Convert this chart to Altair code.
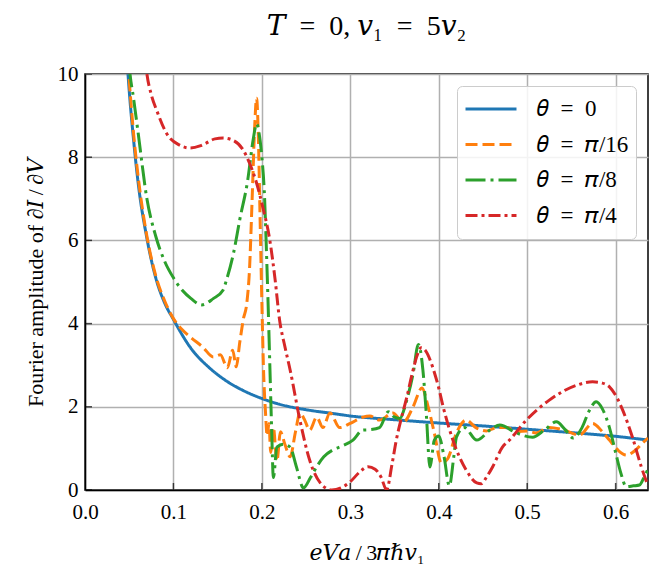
import altair as alt
import pandas as pd

# ---- data ----
labels = ["𝜃\u2002=\u20020", "𝜃\u2002=\u2002𝜋/16", "𝜃\u2002=\u2002𝜋/8", "𝜃\u2002=\u2002𝜋/4"]
colors = ["#1f77b4", "#ff7f0e", "#2ca02c", "#d62728"]

x_t0 = [0.035, 0.04, 0.045, 0.05, 0.055, 0.06, 0.07, 0.08, 0.09, 0.10, 0.12, 0.14, 0.16, 0.18,
        0.20, 0.22, 0.25, 0.28, 0.30, 0.35, 0.40, 0.45, 0.50, 0.55, 0.60, 0.6366]
y_t0 = [16.0, 13.2, 11.2, 9.6, 8.4, 7.4, 6.05, 5.1, 4.5, 4.1, 3.4, 2.95, 2.62, 2.38,
        2.2, 2.06, 1.93, 1.84, 1.78, 1.69, 1.61, 1.54, 1.46, 1.38, 1.29, 1.2]

x_t16 = [0.035, 0.04, 0.045, 0.05, 0.055, 0.06, 0.07, 0.08, 0.09, 0.10, 0.11, 0.12, 0.133, 0.145,
         0.153, 0.161, 0.167, 0.171, 0.175, 0.179, 0.183, 0.186, 0.189, 0.192, 0.194, 0.196, 0.198,
         0.200, 0.202, 0.204, 0.206, 0.208, 0.210, 0.213, 0.217, 0.221, 0.226, 0.232, 0.238, 0.243,
         0.248, 0.254, 0.262, 0.269, 0.277, 0.288, 0.30, 0.314, 0.322, 0.333, 0.348, 0.36, 0.371,
         0.381, 0.388, 0.395, 0.403, 0.41, 0.42, 0.431, 0.442, 0.454, 0.466, 0.477, 0.488, 0.50,
         0.51, 0.525, 0.54, 0.559, 0.574, 0.585, 0.593, 0.603, 0.612, 0.622, 0.63, 0.6366]
y_t16 = [16.0, 13.3, 11.4, 9.85, 8.55, 7.55, 6.1, 5.15, 4.55, 4.12, 3.85, 3.66, 3.44, 3.2,
         3.25, 2.94, 3.36, 2.96, 3.55, 4.1, 4.5, 5.3, 7.0, 8.8, 9.42, 8.5, 6.5,
         4.5, 2.8, 1.9, 1.3, 1.6, 0.9, 1.5, 0.7, 1.4, 1.1, 0.8, 1.4, 1.85,
         1.7, 1.44, 1.75, 1.5, 1.85, 1.5, 1.6, 1.75, 1.78, 1.68, 1.85, 1.63, 2.0,
         2.45, 2.0, 1.37, 0.65, 0.75, 1.37, 1.68, 1.5, 1.42, 1.5, 1.5, 1.4, 1.42,
         1.37, 1.5, 1.45, 1.32, 1.6, 1.4, 1.2, 0.95, 0.84, 0.95, 1.12, 1.25]

x_t8 = [0.035, 0.04, 0.045, 0.05, 0.055, 0.06, 0.07, 0.08, 0.09, 0.10, 0.11, 0.12, 0.132, 0.145,
        0.156, 0.16, 0.168, 0.175, 0.184, 0.19, 0.194, 0.198, 0.2, 0.203, 0.205, 0.207, 0.209,
        0.211, 0.213, 0.217, 0.224, 0.232, 0.239, 0.247, 0.255, 0.262, 0.27, 0.28, 0.29, 0.303,
        0.314, 0.322, 0.333, 0.343, 0.35, 0.356, 0.363, 0.371, 0.377, 0.382, 0.386, 0.39, 0.395,
        0.40, 0.406, 0.412, 0.417, 0.42, 0.429, 0.443, 0.458, 0.469, 0.488, 0.506, 0.52, 0.533,
        0.543, 0.552, 0.562, 0.57, 0.578, 0.585, 0.593, 0.60, 0.606, 0.612, 0.62, 0.627, 0.632, 0.6366]
y_t8 = [16.5, 14.0, 12.0, 10.2, 9.4, 8.6, 7.0, 6.1, 5.5, 5.1, 4.8, 4.6, 4.45, 4.6,
        4.8, 5.05, 5.7, 6.5, 7.45, 8.4, 8.8, 8.4, 8.0, 7.05, 5.85, 4.5, 3.0,
        1.5, 0.3, 1.03, 1.1, 1.03, 0.56, 0.05, 0.3, 0.56, 0.8, 0.96, 1.05, 1.2,
        1.44, 1.45, 1.5, 1.88, 1.75, 1.72, 2.1, 2.8, 3.5, 2.9, 1.8, 0.55, 1.2,
        1.3, 0.8, 0.1, 0.8, 1.27, 1.5, 1.2, 1.44, 1.56, 1.37, 1.27, 1.45, 1.64,
        1.45, 1.25, 1.5, 1.9, 2.12, 1.95, 1.5, 0.9, 0.4, 0.08, 0.1, 0.12, 0.3, 0.5]

x_t4 = [0.06, 0.065, 0.07, 0.075, 0.081, 0.092, 0.107, 0.119, 0.13, 0.137, 0.147, 0.156, 0.167,
        0.179, 0.186, 0.194, 0.201, 0.209, 0.215, 0.22, 0.226, 0.232, 0.243, 0.254, 0.266, 0.279,
        0.292, 0.30, 0.31, 0.32, 0.328, 0.335, 0.341, 0.347, 0.352, 0.358, 0.364, 0.37, 0.375,
        0.38, 0.385, 0.393, 0.40, 0.405, 0.416, 0.431, 0.443, 0.448, 0.454, 0.461, 0.472, 0.48,
        0.499, 0.525, 0.556, 0.574, 0.585, 0.593, 0.602, 0.608, 0.619, 0.629, 0.6366]
y_t4 = [12.2, 11.0, 10.0, 9.5, 9.13, 8.58, 8.29, 8.22, 8.27, 8.34, 8.44, 8.46, 8.41,
        8.17, 7.86, 7.38, 6.8, 6.0, 5.05, 4.09, 3.45, 2.88, 1.68, 0.72, 0.17, 0.0,
        0.08, 0.2, 0.42, 0.56, 0.5, 0.3, 0.0, 0.6, 1.2, 1.75, 2.24, 2.8, 3.2,
        3.42, 3.35, 2.96, 2.45, 2.0, 1.2, 0.48, 0.17, 0.15, 0.31, 0.56, 1.03, 1.2,
        1.68, 2.16, 2.52, 2.6, 2.57, 2.48, 2.2, 1.92, 1.27, 0.56, 0.1]

x_ticks = [0.0, 0.1, 0.2, 0.3, 0.4, 0.5, 0.6]
y_ticks = [0, 2, 4, 6, 8, 10]

series = [(labels[0], x_t0, y_t0), (labels[1], x_t16, y_t16),
          (labels[2], x_t8, y_t8), (labels[3], x_t4, y_t4)]
rows = []
for k, (name, xs, ys) in enumerate(series):
    for xv, yv in zip(xs, ys):
        rows.append({"series": name, "k": k, "x": xv, "y": yv})
df = pd.DataFrame(rows)

dashes = [[1, 0], [12, 5], [20, 5, 3, 5], [12, 4, 3, 4]]
FONT = "Liberation Serif, DejaVu Serif, serif"

xscale = alt.Scale(domain=[0, 0.6366], nice=False, zero=False)
yscale = alt.Scale(domain=[0, 10], nice=False)

legend = alt.Legend(
    title=None, orient="top-right", offset=12, symbolType="stroke",
    symbolStrokeWidth=3, symbolSize=2600, clipHeight=32, rowPadding=3.5,
    labelFont=FONT, labelFontSize=23, labelColor="black", labelOffset=19,
    fillColor="rgba(255,255,255,0.85)", strokeColor="#cccccc", cornerRadius=5,
    padding=7, labelLimit=300,
)

lines = alt.Chart(df).mark_line(strokeWidth=3, clip=True, strokeCap="butt",
                                interpolate="monotone").encode(
    x=alt.X("x:Q", scale=xscale,
            axis=alt.Axis(values=x_ticks, format=".1f", title="𝑒𝑉𝑎\u2009/\u20093𝜋ℏ𝑣₁")),
    y=alt.Y("y:Q", scale=yscale,
            axis=alt.Axis(values=y_ticks, format="d",
                          title="Fourier amplitude of ∂𝐼\u2009/\u2009∂𝑉")),
    color=alt.Color("series:N", scale=alt.Scale(domain=labels, range=colors), legend=legend),
    strokeDash=alt.StrokeDash("series:N", scale=alt.Scale(domain=labels, range=dashes), legend=legend),
    detail="k:Q",
)

xt = pd.DataFrame({"x": x_ticks, "y": [0] * len(x_ticks)})
yt = pd.DataFrame({"x": [0] * len(y_ticks), "y": y_ticks})

xtick_marks = alt.Chart(xt).mark_tick(orient="vertical", size=14, thickness=1.5,
                                      color="black", clip=True).encode(
    x=alt.X("x:Q", scale=xscale), y=alt.Y("y:Q", scale=yscale))
ytick_marks = alt.Chart(yt).mark_tick(orient="horizontal", size=14, thickness=1.5,
                                      color="black", clip=True).encode(
    x=alt.X("x:Q", scale=xscale), y=alt.Y("y:Q", scale=yscale))

chart = alt.layer(lines, xtick_marks, ytick_marks).properties(
    width=563, height=416,
    background="white",
    title=alt.TitleParams("𝑇\u2002=\u20020, 𝑣₁\u2002=\u20025𝑣₂", font=FONT, fontSize=28,
                          fontWeight="normal", anchor="middle",
                          offset=22, color="black"),
    autosize=alt.AutoSizeParams(type="none"),
    padding={"left": 77, "top": 66, "right": 10, "bottom": 88},
).configure_axis(
    labelFont=FONT, labelFontSize=21, labelColor="black", titleFont=FONT,
    titleFontSize=22, titleFontWeight="normal", titleColor="black",
    domainColor="black", domainWidth=1.5, tickSize=0, labelFlush=False,
    gridColor="#b0b0b0", gridWidth=1.5, gridOpacity=1,
).configure_axisX(titlePadding=20, labelPadding=11).configure_axisY(
    titlePadding=10, labelPadding=7
).configure_view(
    stroke="black", strokeWidth=1.5
)

chart.save("out.html", embed_options={"renderer": "svg", "actions": False})
